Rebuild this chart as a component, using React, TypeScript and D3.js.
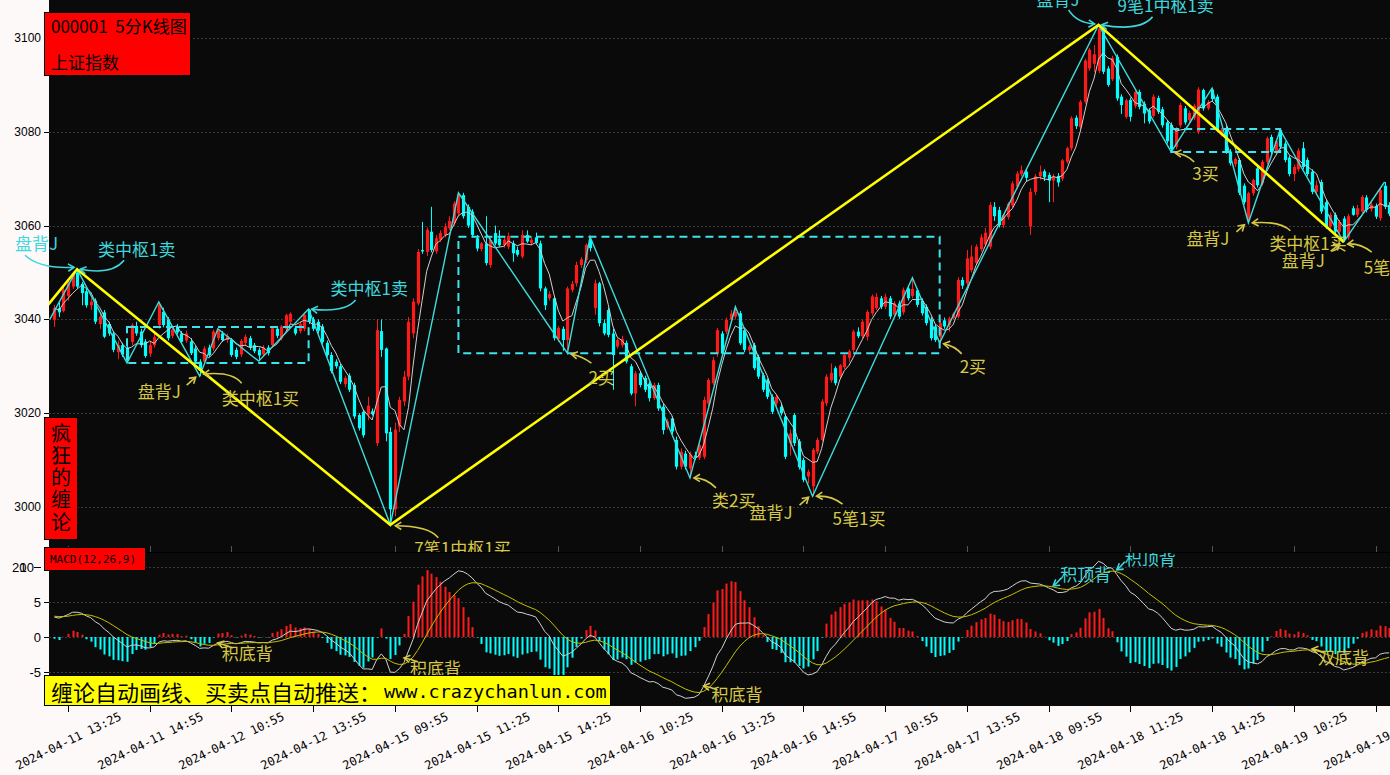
import { useEffect, useRef } from 'react'
import * as d3 from 'd3'

// [open, high, low, close] per 5-minute bar
type Bar = [number, number, number, number]

const d0411: Bar[] = [
  [3039.9, 3043.1, 3038.4, 3042.4], [3042.4, 3044.0, 3040.5, 3041.5], [3041.8, 3047.0, 3041.5, 3046.3], [3045.0, 3048.4, 3044.0, 3047.7],
  [3047.0, 3050.2, 3046.5, 3049.8], [3050.0, 3050.7, 3046.6, 3047.0], [3047.6, 3048.0, 3043.0, 3045.6], [3046.0, 3046.5, 3042.5, 3043.0],
  [3043.0, 3044.5, 3042.0, 3043.8], [3044.0, 3044.5, 3039.0, 3039.5], [3039.0, 3041.5, 3038.0, 3040.6], [3041.5, 3042.0, 3036.0, 3036.3],
  [3039.0, 3039.5, 3036.5, 3037.0], [3037.0, 3037.5, 3033.0, 3033.5], [3033.0, 3035.5, 3031.5, 3034.5], [3034.5, 3035.0, 3032.0, 3032.5],
  [3034.0, 3034.5, 3030.7, 3031.2], [3035.2, 3039.2, 3034.5, 3038.8], [3038.6, 3039.5, 3036.5, 3037.0], [3037.4, 3038.0, 3034.0, 3034.5],
  [3035.3, 3035.8, 3031.8, 3032.2], [3032.7, 3035.2, 3032.0, 3034.5], [3034.5, 3037.0, 3034.0, 3036.2],
]
const d0412: Bar[] = [
  [3038.8, 3043.7, 3038.0, 3043.2], [3041.6, 3042.5, 3038.3, 3038.8], [3040.0, 3040.5, 3035.5, 3036.0], [3036.5, 3038.5, 3036.0, 3037.8],
  [3038.5, 3039.0, 3036.8, 3037.2], [3037.0, 3037.5, 3034.8, 3035.2], [3035.5, 3037.6, 3035.0, 3037.0], [3035.3, 3036.0, 3032.4, 3032.8],
  [3033.8, 3034.3, 3030.6, 3031.0], [3031.0, 3031.5, 3027.9, 3029.0], [3031.0, 3034.3, 3030.5, 3033.8], [3034.0, 3034.6, 3032.0, 3032.4],
  [3033.8, 3037.8, 3033.3, 3037.4], [3036.0, 3038.0, 3035.5, 3037.7], [3037.0, 3037.5, 3035.2, 3035.6], [3035.6, 3037.0, 3035.0, 3036.4],
  [3035.6, 3036.0, 3032.0, 3032.4], [3033.5, 3034.0, 3031.5, 3032.0], [3032.5, 3035.8, 3032.0, 3035.4], [3035.0, 3036.8, 3034.5, 3036.3],
  [3036.0, 3036.5, 3033.5, 3034.0], [3034.5, 3035.0, 3032.8, 3033.2], [3033.5, 3034.0, 3031.1, 3032.3], [3032.5, 3034.5, 3032.0, 3034.0],
  [3034.0, 3034.5, 3032.3, 3032.8], [3034.5, 3038.5, 3034.0, 3038.1], [3038.0, 3038.5, 3036.0, 3036.5], [3036.0, 3038.8, 3035.5, 3038.5],
  [3038.0, 3041.2, 3037.5, 3040.9], [3039.5, 3041.5, 3039.0, 3041.2], [3038.1, 3038.6, 3036.6, 3037.0], [3037.5, 3039.5, 3037.0, 3039.0],
  [3038.0, 3041.5, 3037.5, 3041.0], [3042.0, 3042.2, 3039.0, 3039.5], [3040.0, 3040.5, 3037.5, 3038.0], [3039.5, 3040.0, 3037.0, 3037.6],
  [3038.5, 3039.0, 3034.8, 3035.2], [3035.0, 3035.5, 3032.0, 3032.4], [3032.4, 3033.0, 3028.5, 3029.0], [3031.0, 3031.5, 3029.5, 3030.0],
  [3030.0, 3030.5, 3026.2, 3026.7], [3026.2, 3028.0, 3025.5, 3027.5], [3028.0, 3028.5, 3024.5, 3025.0], [3026.0, 3026.5, 3018.8, 3019.3],
  [3019.6, 3020.0, 3016.3, 3016.8], [3020.3, 3020.8, 3014.8, 3015.3], [3019.7, 3023.5, 3018.5, 3021.6], [3020.4, 3021.0, 3019.5, 3019.8],
]
const d0415: Bar[] = [
  [3013.6, 3040.0, 3013.0, 3037.7], [3037.5, 3040.0, 3032.0, 3033.5], [3033.8, 3034.0, 3014.0, 3015.7], [3016.0, 3017.0, 2996.2, 2999.5],
  [2999.5, 3018.0, 2998.0, 3016.5], [3017.1, 3023.5, 3016.0, 3022.8], [3022.5, 3029.0, 3021.5, 3027.8], [3027.8, 3040.5, 3027.0, 3039.5],
  [3037.0, 3044.5, 3036.0, 3043.8], [3043.4, 3055.0, 3043.0, 3054.4], [3054.8, 3060.8, 3054.0, 3054.5], [3054.4, 3059.6, 3053.5, 3059.1],
  [3058.7, 3064.0, 3054.3, 3054.8], [3054.5, 3058.0, 3054.0, 3057.3], [3057.0, 3059.0, 3056.5, 3058.4], [3058.0, 3060.5, 3057.5, 3059.8],
  [3059.5, 3062.0, 3059.0, 3061.0], [3060.5, 3065.2, 3060.0, 3064.7], [3062.6, 3067.0, 3062.0, 3066.6], [3066.5, 3067.0, 3061.5, 3062.0],
  [3064.0, 3064.5, 3059.5, 3060.0], [3063.0, 3063.5, 3057.5, 3058.0], [3057.3, 3058.0, 3054.5, 3055.1], [3055.0, 3056.5, 3054.5, 3056.2],
  [3056.2, 3062.0, 3051.5, 3052.0], [3051.6, 3057.5, 3051.0, 3056.9], [3058.4, 3060.0, 3055.8, 3056.2], [3057.2, 3059.0, 3055.5, 3055.8],
  [3055.8, 3057.5, 3055.3, 3057.0], [3055.5, 3058.5, 3055.0, 3057.8], [3056.2, 3056.8, 3052.3, 3054.1], [3054.8, 3055.5, 3053.4, 3053.8],
  [3053.4, 3059.0, 3053.0, 3058.0], [3058.0, 3059.0, 3056.3, 3056.6], [3056.3, 3057.5, 3055.8, 3057.0], [3057.5, 3058.5, 3056.0, 3056.3],
  [3056.2, 3056.8, 3046.0, 3046.6], [3046.6, 3047.0, 3042.0, 3043.0], [3044.5, 3046.0, 3044.0, 3045.4], [3044.5, 3045.0, 3035.5, 3036.0],
  [3035.8, 3038.6, 3035.2, 3038.2], [3038.0, 3038.5, 3033.3, 3035.6], [3035.6, 3047.0, 3032.8, 3046.6], [3046.3, 3048.2, 3045.8, 3047.6],
  [3047.7, 3052.3, 3047.0, 3051.6], [3051.6, 3053.3, 3051.0, 3052.8], [3052.7, 3056.2, 3052.0, 3055.9], [3056.9, 3057.6, 3054.5, 3055.2],
]
const d0416: Bar[] = [
  [3042.4, 3048.5, 3041.0, 3047.7], [3047.7, 3048.0, 3038.5, 3039.2], [3039.2, 3040.0, 3036.6, 3037.0], [3042.0, 3042.5, 3036.2, 3036.7],
  [3037.0, 3038.0, 3025.0, 3032.4], [3034.2, 3036.0, 3033.8, 3035.6], [3034.5, 3036.5, 3034.0, 3035.8], [3035.0, 3035.5, 3030.6, 3031.0],
  [3030.0, 3030.5, 3023.8, 3024.2], [3024.2, 3029.0, 3021.5, 3028.5], [3028.5, 3029.0, 3025.5, 3026.0], [3027.5, 3028.0, 3024.5, 3025.0],
  [3026.3, 3026.8, 3022.5, 3023.2], [3023.2, 3026.5, 3022.8, 3026.0], [3026.0, 3026.5, 3020.5, 3021.0], [3021.4, 3022.0, 3015.5, 3016.4],
  [3017.0, 3018.8, 3016.5, 3018.3], [3018.9, 3019.3, 3015.5, 3016.1], [3014.3, 3015.0, 3008.0, 3008.6], [3008.6, 3012.5, 3008.0, 3011.8],
  [3011.4, 3012.0, 3008.0, 3008.6], [3008.2, 3011.8, 3006.2, 3011.2], [3011.0, 3011.8, 3010.0, 3010.5], [3010.5, 3013.5, 3010.0, 3013.2],
  [3010.7, 3023.5, 3010.2, 3022.8], [3022.1, 3027.5, 3021.5, 3027.1], [3026.4, 3032.0, 3026.0, 3031.3], [3032.7, 3038.2, 3032.0, 3037.7],
  [3037.0, 3037.5, 3032.2, 3032.7], [3037.4, 3040.4, 3036.9, 3039.9], [3040.0, 3042.0, 3039.5, 3041.2], [3040.6, 3042.7, 3040.0, 3041.6],
  [3041.3, 3041.8, 3034.5, 3034.9], [3037.7, 3038.2, 3033.0, 3033.5], [3033.5, 3034.6, 3033.0, 3034.2], [3034.5, 3035.0, 3029.2, 3029.6],
  [3032.0, 3032.5, 3027.3, 3027.8], [3028.1, 3028.6, 3024.5, 3025.0], [3027.0, 3027.4, 3023.0, 3023.5], [3023.5, 3024.0, 3019.8, 3020.3],
  [3022.1, 3024.0, 3021.5, 3023.5], [3021.4, 3022.0, 3019.5, 3020.0], [3019.3, 3019.8, 3010.2, 3010.7], [3013.6, 3016.5, 3011.0, 3015.7],
  [3019.6, 3020.0, 3013.0, 3013.6], [3014.0, 3014.5, 3008.0, 3008.5], [3010.0, 3010.5, 3005.3, 3005.8], [3006.5, 3008.0, 3005.0, 3007.5],
]
const d0417: Bar[] = [
  [3004.4, 3012.6, 3002.3, 3012.2], [3011.8, 3014.8, 3011.3, 3014.3], [3014.3, 3023.0, 3014.0, 3022.5], [3022.1, 3028.3, 3021.5, 3027.8],
  [3027.0, 3030.6, 3026.5, 3028.6], [3029.6, 3030.0, 3025.9, 3026.4], [3027.8, 3030.5, 3027.3, 3030.2], [3029.8, 3032.8, 3029.4, 3032.4],
  [3031.8, 3033.6, 3031.0, 3033.2], [3033.5, 3037.8, 3033.0, 3037.4], [3037.4, 3038.3, 3036.0, 3036.4], [3036.4, 3040.0, 3036.0, 3039.5],
  [3036.3, 3042.0, 3035.5, 3041.6], [3041.3, 3045.3, 3040.8, 3044.9], [3042.4, 3045.6, 3042.0, 3044.8], [3044.5, 3045.0, 3042.2, 3042.7],
  [3042.7, 3045.5, 3042.2, 3044.8], [3044.5, 3045.0, 3040.1, 3040.6], [3041.0, 3043.9, 3040.5, 3043.4], [3043.4, 3044.0, 3040.1, 3040.6],
  [3041.5, 3046.8, 3041.0, 3046.3], [3046.6, 3047.2, 3044.0, 3044.5], [3045.0, 3048.9, 3044.5, 3046.5], [3046.2, 3046.6, 3042.6, 3043.1],
  [3044.0, 3044.5, 3040.8, 3041.3], [3042.7, 3043.2, 3038.7, 3039.2], [3040.0, 3040.5, 3035.5, 3036.0], [3038.5, 3039.0, 3035.2, 3035.6],
  [3036.2, 3039.7, 3035.0, 3039.2], [3039.8, 3040.4, 3038.0, 3038.5], [3038.8, 3040.6, 3037.4, 3040.2], [3040.3, 3041.5, 3040.0, 3041.2],
  [3040.6, 3049.0, 3040.2, 3048.4], [3048.4, 3049.0, 3046.5, 3047.2], [3047.7, 3054.8, 3047.2, 3053.0], [3050.5, 3055.8, 3050.0, 3053.4],
  [3052.0, 3056.0, 3051.5, 3055.5], [3055.0, 3058.2, 3054.5, 3057.5], [3056.0, 3059.5, 3055.5, 3058.5], [3055.5, 3065.0, 3055.0, 3064.4],
  [3064.0, 3065.0, 3061.0, 3062.0], [3063.3, 3064.0, 3059.6, 3060.1], [3060.1, 3062.5, 3059.5, 3062.2], [3061.8, 3065.0, 3061.3, 3064.7],
  [3064.3, 3069.5, 3063.8, 3069.0], [3068.3, 3071.6, 3067.8, 3071.1], [3071.0, 3072.8, 3070.5, 3071.8], [3071.5, 3072.0, 3069.5, 3070.2],
]
const d0418: Bar[] = [
  [3059.8, 3068.0, 3058.0, 3067.2], [3067.2, 3071.0, 3066.5, 3070.5], [3070.5, 3072.8, 3069.8, 3071.5], [3071.6, 3072.0, 3069.5, 3070.3],
  [3070.8, 3071.3, 3065.0, 3069.6], [3069.6, 3071.0, 3065.0, 3070.4], [3070.6, 3071.2, 3068.3, 3069.2], [3070.0, 3074.2, 3069.5, 3073.9],
  [3073.6, 3076.8, 3073.2, 3076.5], [3076.5, 3083.3, 3076.0, 3082.9], [3083.0, 3083.5, 3080.6, 3081.2], [3081.0, 3086.8, 3080.5, 3086.4],
  [3086.4, 3095.6, 3086.0, 3095.2], [3093.5, 3097.9, 3093.0, 3097.5], [3094.5, 3098.5, 3092.8, 3096.5], [3093.0, 3102.8, 3092.5, 3102.0],
  [3102.0, 3102.5, 3092.3, 3092.8], [3093.5, 3094.0, 3089.6, 3090.0], [3091.2, 3096.2, 3090.8, 3095.7], [3096.0, 3096.5, 3086.6, 3087.1],
  [3087.5, 3088.0, 3083.8, 3085.7], [3083.2, 3087.0, 3082.8, 3086.7], [3086.8, 3087.3, 3082.2, 3083.2], [3085.5, 3088.8, 3085.0, 3088.5],
  [3088.5, 3089.0, 3084.8, 3085.3], [3086.0, 3086.5, 3081.8, 3083.9], [3084.6, 3085.0, 3081.7, 3082.2], [3083.4, 3088.0, 3083.0, 3087.5],
  [3087.2, 3087.7, 3083.8, 3084.3], [3084.8, 3085.3, 3080.9, 3081.4], [3082.0, 3082.5, 3077.5, 3078.0], [3081.5, 3082.0, 3075.7, 3076.3],
  [3076.8, 3081.0, 3076.3, 3080.6], [3081.4, 3086.2, 3080.9, 3085.7], [3085.0, 3085.5, 3081.5, 3082.0], [3082.5, 3084.5, 3082.0, 3084.0],
  [3083.0, 3086.0, 3082.5, 3085.5], [3080.0, 3089.5, 3079.5, 3089.0], [3088.9, 3089.2, 3084.5, 3085.0], [3085.0, 3086.8, 3084.6, 3086.3],
  [3089.0, 3089.3, 3086.4, 3087.0], [3087.5, 3088.0, 3080.0, 3080.4], [3079.4, 3080.8, 3079.0, 3080.4], [3080.8, 3081.3, 3075.3, 3075.7],
  [3075.8, 3076.3, 3072.8, 3073.3], [3073.1, 3074.5, 3072.5, 3074.2], [3074.0, 3074.4, 3066.5, 3067.0], [3068.5, 3069.0, 3064.5, 3065.0],
]
const d0419: Bar[] = [
  [3061.5, 3067.2, 3060.6, 3066.9], [3066.9, 3070.0, 3066.4, 3069.7], [3072.2, 3072.7, 3068.1, 3068.6], [3069.0, 3074.0, 3068.5, 3073.6],
  [3073.6, 3079.0, 3073.1, 3078.6], [3078.9, 3079.4, 3075.2, 3075.7], [3075.5, 3078.5, 3075.0, 3078.0], [3080.4, 3080.4, 3076.3, 3076.8],
  [3077.5, 3078.0, 3073.5, 3074.0], [3074.5, 3075.0, 3070.5, 3071.0], [3071.0, 3073.0, 3069.5, 3072.5], [3072.0, 3076.5, 3071.5, 3076.0],
  [3076.5, 3077.8, 3072.0, 3072.5], [3074.0, 3074.5, 3070.5, 3071.0], [3071.5, 3072.0, 3066.7, 3067.2], [3067.2, 3069.6, 3066.5, 3068.6],
  [3069.3, 3069.8, 3062.5, 3063.0], [3065.0, 3065.5, 3059.3, 3059.8], [3059.8, 3062.8, 3059.3, 3062.3], [3062.3, 3062.8, 3058.2, 3058.7],
  [3058.7, 3061.2, 3058.2, 3060.8], [3061.5, 3062.0, 3056.5, 3057.0], [3057.5, 3062.5, 3057.0, 3062.0], [3063.7, 3064.2, 3062.1, 3062.3],
  [3062.3, 3064.4, 3061.8, 3063.7], [3063.0, 3066.5, 3062.7, 3066.1], [3066.0, 3066.5, 3062.8, 3063.3], [3063.5, 3065.0, 3063.0, 3064.5],
  [3064.2, 3064.7, 3061.4, 3061.9], [3061.6, 3068.0, 3061.0, 3067.6], [3068.5, 3069.3, 3063.5, 3064.0], [3064.4, 3065.0, 3062.0, 3062.5],
]

const xTickBars = [3, 21, 39, 57, 75, 93, 111, 129, 147, 165, 183, 201, 219, 237, 255, 273, 291]
const xTickLabels = [
  '2024-04-11 13:25', '2024-04-11 14:55', '2024-04-12 10:55', '2024-04-12 13:55', '2024-04-15 09:55', '2024-04-15 11:25',
  '2024-04-15 14:25', '2024-04-16 10:25', '2024-04-16 13:25', '2024-04-16 14:55', '2024-04-17 10:55', '2024-04-17 13:55',
  '2024-04-18 09:55', '2024-04-18 11:25', '2024-04-18 14:25', '2024-04-19 10:25', '2024-04-19 13:25',
]
const priceTicks = [3000, 3020, 3040, 3060, 3080, 3100]
const macdTicks = [-5, 0, 5]
const macdInit = { dif: 2.9, dea: 3.0 }

// 笔 pivots [bar, price]
const biPoints: [number, number][] = [
  [-1, 3040], [5, 3050.7], [16, 3030.7], [23, 3043.7], [32, 3027.9], [36, 3038], [45, 3031.1], [56, 3042.2],
  [74, 2996.2], [89, 3067], [113, 3032.8], [118, 3057.6], [140, 3006.2], [150, 3042.7], [167, 3002.3],
  [189, 3048.9], [195, 3035], [230, 3102.8], [246, 3075.7], [255, 3089.3], [263, 3060.6], [270, 3080.4],
  [284, 3056.5], [293, 3069.3],
]
// 线段 pivots
const segPoints: [number, number][] = [[-1.4, 3043.1], [5, 3050.7], [74, 2996.2], [230, 3102.8], [284, 3056.5]]
// 中枢 [fromBar, toBar, low, high]
const zhongshu: [number, number, number, number][] = [
  [16, 56, 3030.7, 3038.4], [89, 195, 3032.8, 3057.6], [246, 270, 3075.7, 3080.6],
]

const CY = '#3fd6dc'
const YL = '#d6c846'
// text offsets and arrow [sx,sy,(cx,cy,)ex,ey] relative to the pivot
const mainNotes = [
  { t: '盘背J', i: 5, p: 3050.7, dx: -62, dy: -27, a: [-52, -14, -37, 0, -3, -2], c: CY },
  { t: '类中枢1卖', i: 5, p: 3050.7, dx: 21, dy: -21, a: [47, -9, 35, 6, 3, 0], c: CY },
  { t: '类中枢1卖', i: 56, p: 3042.2, dx: 22, dy: -22, a: [47, -9, 36, 4, 3, 0], c: CY },
  { t: '盘背J', i: 230, p: 3102.8, dx: -62, dy: -26, a: [-30, -15, -22, -2, -4, -1], c: CY },
  { t: '9笔1中枢1卖', i: 230, p: 3102.8, dx: 19, dy: -20, a: [54, -8, 41, 7, 3, 0], c: CY },
  { t: '盘背J', i: 32, p: 3027.9, dx: -62, dy: 14, a: [-13, 9, -4, 1], c: YL },
  { t: '类中枢1买', i: 32, p: 3027.9, dx: 22, dy: 21, a: [42, 7, 32, -5, 4, -2], c: YL },
  { t: '7笔1中枢1买', i: 74, p: 2996.2, dx: 24, dy: 23, a: [48, 13, 38, 1, 5, 1], c: YL },
  { t: '2买', i: 113, p: 3032.8, dx: 21, dy: 23, a: [24, 10, 15, 3, 4, 1], c: YL },
  { t: '类2买', i: 140, p: 3006.2, dx: 22, dy: 22, a: [26, 10, 16, 0, 4, 0], c: YL },
  { t: '盘背J', i: 167, p: 3002.3, dx: -63, dy: 15, a: [-13, 9, -4, 1], c: YL },
  { t: '5笔1买', i: 167, p: 3002.3, dx: 20, dy: 21, a: [30, 8, 19, -1, 4, 0], c: YL },
  { t: '2买', i: 195, p: 3035, dx: 20, dy: 23, a: [22, 11, 15, 3, 4, 1], c: YL },
  { t: '3买', i: 246, p: 3075.7, dx: 21, dy: 21, a: [23, 10, 15, 2, 4, 1], c: YL },
  { t: '盘背J', i: 263, p: 3060.6, dx: -62, dy: 15, a: [-12, 9, -4, 2], c: YL },
  { t: '类中枢1买', i: 263, p: 3060.6, dx: 21, dy: 20, a: [42, 8, 32, -2, 4, 0], c: YL },
  { t: '盘背J', i: 284, p: 3056.5, dx: -62, dy: 17, a: [-13, 9, -4, 2], c: YL },
  { t: '5笔1买', i: 284, p: 3056.5, dx: 20, dy: 24, a: [28, 10, 16, 1, 4, 2], c: YL },
]
const macdNotes = [
  { t: '积底背', i: 36, v: -0.85, dx: 4, dy: 10, a: [15, 5, 7, 2, 0, 0], c: YL },
  { t: '积底背', i: 77, v: -3, dx: 6, dy: 9, a: [14, 4, 7, 1, 0, 0], c: YL },
  { t: '积底背', i: 143, v: -7, dx: 8, dy: 7, a: [14, 4, 7, 1, 0, 0], c: YL },
  { t: '积顶背', i: 220, v: 7.3, dx: 7, dy: -12, a: [8, -8, 4, -3, 0, 0], c: CY },
  { t: '积顶背', i: 234, v: 9.6, dx: 8, dy: -12, a: [8, -8, 4, -3, 0, 0], c: CY },
  { t: '双底背', i: 277, v: -1.7, dx: 6, dy: 8, a: [12, 4, 6, 1, 0, 0], c: YL },
]

const CJK = "'Noto Sans CJK SC', 'Noto Sans', sans-serif"

export default function App() {
  const svgRef = useRef<SVGSVGElement>(null)

  useEffect(() => {
    if (!svgRef.current) return
    const W = 1390, H = 775
    const L = 49, mTop = 0, mBot = 552, kTop = 553, kBot = 706
    const bars = [...d0411, ...d0412, ...d0415, ...d0416, ...d0417, ...d0418, ...d0419]
    const closes = bars.map(b => b[3])

    const svg = d3.select(svgRef.current)
    svg.selectAll('*').remove()
    svg.attr('width', W).attr('height', H)

    const x = d3.scaleLinear().domain([3, 291]).range([68, 1375.5])
    const y = d3.scaleLinear().domain([3000, 3100]).range([507, 38])
    const yM = d3.scaleLinear().domain([-5, 10]).range([672, 567])

    svg.append('rect').attr('width', W).attr('height', H).attr('fill', '#fdf9f9')
    svg.append('rect').attr('x', L).attr('y', mTop).attr('width', W - L).attr('height', mBot - mTop).attr('fill', '#0a0a0a')

    const defs = svg.append('defs')
    defs.append('clipPath').attr('id', 'mainclip').append('rect').attr('x', L).attr('y', 0).attr('width', W - L).attr('height', mBot)
    defs.append('clipPath').attr('id', 'macdclip').append('rect').attr('x', L).attr('y', kTop).attr('width', W - L).attr('height', kBot - kTop)

    // grid
    svg.append('g').selectAll('line').data(priceTicks).enter().append('line')
      .attr('x1', L).attr('x2', W).attr('y1', d => Math.round(y(d)) + 0.5).attr('y2', d => Math.round(y(d)) + 0.5)
      .attr('stroke', '#3a3a3a').attr('stroke-dasharray', '2,2')

    const main = svg.append('g').attr('clip-path', 'url(#mainclip)')

    // candles
    const bw = 3.2
    const cg = main.append('g')
    bars.forEach((b, i) => {
      const [o, h, l, c] = b
      const col = c >= o ? '#ff1a1a' : '#00ffff'
      const cx = Math.round(x(i)) + 0.5
      cg.append('line').attr('x1', cx).attr('x2', cx).attr('y1', y(h)).attr('y2', y(l)).attr('stroke', col).attr('stroke-width', 1)
      const top = y(Math.max(o, c)), bot = y(Math.min(o, c))
      cg.append('rect').attr('x', cx - bw / 2).attr('y', top).attr('width', bw).attr('height', Math.max(1, bot - top)).attr('fill', col)
    })

    // MA5
    const ma = closes.map((_, i) => {
      const s = closes.slice(Math.max(0, i - 4), i + 1)
      return d3.mean(s) as number
    })
    main.append('path').datum(ma).attr('fill', 'none').attr('stroke', '#cfcfcf').attr('stroke-width', 1)
      .attr('d', d3.line<number>().x((_, i) => x(i)).y(d => y(d)))

    // zhongshu boxes
    main.append('g').selectAll('rect').data(zhongshu).enter().append('rect')
      .attr('x', d => x(d[0])).attr('y', d => y(d[3])).attr('width', d => x(d[1]) - x(d[0])).attr('height', d => y(d[2]) - y(d[3]))
      .attr('fill', 'none').attr('stroke', '#3ee4ec').attr('stroke-width', 2).attr('stroke-dasharray', '8,5')

    // bi + segment
    main.append('path').datum(biPoints).attr('fill', 'none').attr('stroke', '#3fdcdc').attr('stroke-width', 1.4)
      .attr('d', d3.line<[number, number]>().x(d => x(d[0])).y(d => y(d[1])))
    main.append('path').datum(segPoints).attr('fill', 'none').attr('stroke', '#ffff00').attr('stroke-width', 2.6)
      .attr('d', d3.line<[number, number]>().x(d => x(d[0])).y(d => y(d[1])))

    const drawArrow = (g: d3.Selection<SVGGElement, unknown, null, undefined>, px: number, py: number, a: number[], col: string) => {
      const sx = px + a[0], sy = py + a[1]
      const ex = px + a[a.length - 2], ey = py + a[a.length - 1]
      const cx = a.length === 6 ? px + a[2] : sx, cy = a.length === 6 ? py + a[3] : sy
      const d = a.length === 6 ? `M${sx},${sy}Q${cx},${cy} ${ex},${ey}` : `M${sx},${sy}L${ex},${ey}`
      g.append('path').attr('d', d).attr('fill', 'none').attr('stroke', col).attr('stroke-width', 1.6)
      const ang = Math.atan2(ey - cy, ex - cx)
      const hl = 7
      const h1 = [ex - hl * Math.cos(ang - 0.55), ey - hl * Math.sin(ang - 0.55)]
      const h2 = [ex - hl * Math.cos(ang + 0.55), ey - hl * Math.sin(ang + 0.55)]
      g.append('path').attr('d', `M${h1[0]},${h1[1]}L${ex},${ey}L${h2[0]},${h2[1]}`)
        .attr('fill', 'none').attr('stroke', col).attr('stroke-width', 1.6)
    }

    const notesG = svg.append('g')
    mainNotes.forEach(n => {
      const px = x(n.i), py = y(n.p)
      notesG.append('text').attr('x', px + n.dx).attr('y', py + n.dy).attr('dominant-baseline', 'central')
        .attr('fill', n.c).attr('font-family', CJK).attr('font-size', 17).text(n.t)
      drawArrow(notesG, px, py, n.a, n.c)
    })

    // MACD panel
    svg.append('rect').attr('x', L).attr('y', kTop).attr('width', W - L).attr('height', kBot - kTop).attr('fill', '#0a0a0a')
    svg.append('line').attr('x1', L).attr('x2', W).attr('y1', kTop - 0.5).attr('y2', kTop - 0.5).attr('stroke', '#000')
    svg.append('g').selectAll('line').data([...macdTicks, 10]).enter().append('line')
      .attr('x1', L).attr('x2', W).attr('y1', d => Math.round(yM(d)) + 0.5).attr('y2', d => Math.round(yM(d)) + 0.5)
      .attr('stroke', '#3a3a3a').attr('stroke-dasharray', '2,2')

    let e12 = closes[0] - 2
    let e26 = e12 - macdInit.dif
    let dea = macdInit.dea
    const macd = closes.map(c => {
      e12 += (c - e12) * 2 / 13
      e26 += (c - e26) * 2 / 27
      const dif = e12 - e26
      dea += (dif - dea) * 2 / 10
      return { dif, dea, hist: 2 * (dif - dea) }
    })

    const mg = svg.append('g').attr('clip-path', 'url(#macdclip)')
    mg.append('g').selectAll('rect').data(macd).enter().append('rect')
      .attr('x', (_, i) => Math.round(x(i)) - 0.5).attr('width', 2)
      .attr('y', d => Math.min(yM(0), yM(d.hist))).attr('height', d => Math.abs(yM(d.hist) - yM(0)))
      .attr('fill', d => d.hist >= 0 ? '#ff1a1a' : '#00ffff')
    mg.append('path').datum(macd).attr('fill', 'none').attr('stroke', '#d0d0d0').attr('stroke-width', 1)
      .attr('d', d3.line<{ dif: number }>().x((_, i) => x(i)).y(d => yM(d.dif)))
    mg.append('path').datum(macd).attr('fill', 'none').attr('stroke', '#c8c000').attr('stroke-width', 1)
      .attr('d', d3.line<{ dea: number }>().x((_, i) => x(i)).y(d => yM(d.dea)))

    macdNotes.forEach(n => {
      const px = x(n.i), py = yM(n.v)
      mg.append('text').attr('x', px + n.dx).attr('y', py + n.dy).attr('dominant-baseline', 'central')
        .attr('fill', n.c).attr('font-family', CJK).attr('font-size', 17).text(n.t)
      drawArrow(mg as unknown as d3.Selection<SVGGElement, unknown, null, undefined>, px, py, n.a, n.c)
    })

    // y axes
    const yAx = svg.append('g').attr('font-family', "'Liberation Sans', Arial, sans-serif").attr('font-size', 12).attr('fill', '#000')
    priceTicks.forEach(t => {
      yAx.append('line').attr('x1', 44).attr('x2', L).attr('y1', Math.round(y(t)) + 0.5).attr('y2', Math.round(y(t)) + 0.5).attr('stroke', '#000')
      yAx.append('text').attr('x', 41).attr('y', y(t)).attr('text-anchor', 'end').attr('dominant-baseline', 'central').text(t)
    })
    macdTicks.forEach(t => {
      yAx.append('line').attr('x1', 44).attr('x2', L).attr('y1', Math.round(yM(t)) + 0.5).attr('y2', Math.round(yM(t)) + 0.5).attr('stroke', '#000')
      yAx.append('text').attr('x', 41).attr('y', yM(t)).attr('text-anchor', 'end').attr('dominant-baseline', 'central')
        .attr('font-size', 13).text(t)
    })
    // top MACD tick: "20" and "10" drawn on top of each other, as in the source
    yAx.append('line').attr('x1', 34).attr('x2', 41).attr('y1', Math.round(yM(10)) + 0.5).attr('y2', Math.round(yM(10)) + 0.5).attr('stroke', '#000')
    const topLbl = yAx.append('text').attr('x', 12).attr('y', yM(10)).attr('dominant-baseline', 'central').attr('font-size', 13)
    topLbl.append('tspan').text('20')
    topLbl.append('tspan').attr('dx', -7).text('10')

    // x axis
    const xAx = svg.append('g')
    xTickBars.forEach((b, k) => {
      const tx = Math.round(x(b)) + 0.5
      xAx.append('line').attr('x1', tx).attr('x2', tx).attr('y1', kBot).attr('y2', kBot + 6).attr('stroke', '#000')
      xAx.append('line').attr('x1', tx).attr('x2', tx).attr('y1', mBot - 6).attr('y2', mBot).attr('stroke', '#555')
      xAx.append('text').attr('transform', `translate(${tx},741) rotate(-26)`).attr('text-anchor', 'middle')
        .attr('dominant-baseline', 'central').attr('font-family', "'DejaVu Sans Mono', monospace").attr('font-size', 12)
        .attr('fill', '#000').text(xTickLabels[k])
    })

    // boxes
    const boxes = svg.append('g')
    boxes.append('rect').attr('x', 44.5).attr('y', 12.5).attr('width', 146).attr('height', 63).attr('fill', '#ff0000').attr('stroke', '#000')
    boxes.append('text').attr('x', 51).attr('y', 33).attr('font-family', CJK).attr('font-size', 17).attr('fill', '#000')
      .style('white-space', 'pre').text('000001  5分K线图')
    boxes.append('text').attr('x', 51).attr('y', 69).attr('font-family', CJK).attr('font-size', 17).attr('fill', '#000').text('上证指数')

    boxes.append('rect').attr('x', 44.5).attr('y', 417.5).attr('width', 33).attr('height', 122).attr('fill', '#ff0000').attr('stroke', '#000')
    boxes.append('text').attr('x', 61).attr('y', 423).attr('writing-mode', 'vertical-rl').attr('letter-spacing', 2.3)
      .attr('font-family', CJK).attr('font-size', 20).attr('fill', '#000').text('疯狂的缠论')

    boxes.append('rect').attr('x', 44.5).attr('y', 547.5).attr('width', 101).attr('height', 23).attr('fill', '#ff0000').attr('stroke', '#000')
    boxes.append('text').attr('x', 50).attr('y', 559).attr('dominant-baseline', 'central').attr('font-family', "'DejaVu Sans Mono', monospace")
      .attr('font-size', 11).attr('fill', '#000').text('MACD(12,26,9)')

    boxes.append('rect').attr('x', 44.5).attr('y', 675.5).attr('width', 566).attr('height', 30).attr('fill', '#ffff00').attr('stroke', '#000')
    boxes.append('text').attr('x', 51).attr('y', 691).attr('dominant-baseline', 'central').attr('font-family', CJK)
      .attr('font-size', 22).attr('fill', '#000').text('缠论自动画线、买卖点自动推送：')
    boxes.append('text').attr('x', 384).attr('y', 691).attr('dominant-baseline', 'central').attr('font-family', "'DejaVu Sans Mono', monospace")
      .attr('font-size', 18.5).attr('fill', '#000').text('www.crazychanlun.com')
  }, [])

  return <svg ref={svgRef} width={1390} height={775} style={{ position: 'absolute', left: 0, top: 0, display: 'block' }} />
}
